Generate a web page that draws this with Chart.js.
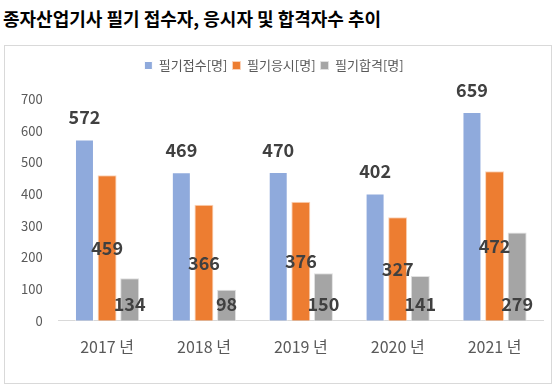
<!DOCTYPE html>
<html>
<head>
<meta charset="utf-8">
<script src="https://cdn.jsdelivr.net/npm/chart.js@4"></script>
<style>
  body { margin: 0; background: #fff; }
  #title {
    position: absolute; left: 3px; top: 5px;
    font-family: 'Noto Sans CJK KR', 'Noto Sans', sans-serif;
    font-weight: bold; font-size: 18px; color: #000;
    white-space: nowrap;
  }
  #box {
    position: absolute; left: 4px; top: 45px;
    width: 548px; height: 339px;
    border: 1px solid #d9d9d9; box-sizing: border-box;
  }
  #box canvas { position: absolute; left: 0; top: 0; }
</style>
</head>
<body>
<div id="title">종자산업기사 필기 접수자, 응시자 및 합격자수 추이</div>
<div id="box"><canvas id="salesChart" width="546" height="337"></canvas></div>
<script>
// chart data
const years = ['2017 년', '2018 년', '2019 년', '2020 년', '2021 년'];
const applied = [572, 469, 470, 402, 659];   // 필기접수
const tested = [459, 366, 376, 327, 472];    // 필기응시
const passed = [134, 98, 150, 141, 279];     // 필기합격

const KFONT = "'Noto Sans CJK KR', 'Noto Sans', sans-serif";

// Excel style value labels: blue above bar, orange mid bar, gray near base
const valueLabels = {
    id: 'valueLabels',
    afterDatasetsDraw(chart) {
        const ctx = chart.ctx;
        ctx.save();
        ctx.font = 'bold 18px ' + KFONT;
        ctx.fillStyle = '#404040';
        ctx.textAlign = 'center';
        ctx.textBaseline = 'middle';
        chart.data.datasets.forEach((ds, i) => {
            const meta = chart.getDatasetMeta(i);
            meta.data.forEach((bar, j) => {
                let y;
                if (i === 0) y = bar.y - 22;
                else if (i === 1) y = (bar.y + bar.base) / 2;
                else y = bar.base - 17;
                ctx.fillText(String(ds.data[j]), bar.x, y);
            });
        });
        ctx.restore();
    }
};

// extra space under the legend
const legendGap = {
    id: 'legendGap',
    beforeInit(chart) {
        const origFit = chart.legend.fit;
        chart.legend.fit = function () {
            origFit.bind(chart.legend)();
            this.height += 17;
        };
    }
};

const chartCtx = document.getElementById('salesChart').getContext('2d');
new Chart(chartCtx, {
    type: 'bar',
    data: {
        labels: years,
        datasets: [{
            label: '필기접수[명]',
            data: applied,
            backgroundColor: '#8faadc',
            borderColor: '#ffffff',
            borderWidth: 1
        }, {
            label: '필기응시[명]',
            data: tested,
            backgroundColor: '#ed7d31',
            borderColor: '#fbd3b8',
            borderWidth: 1
        }, {
            label: '필기합격[명]',
            data: passed,
            backgroundColor: '#a5a5a5',
            borderColor: '#e0e0e0',
            borderWidth: 1
        }]
    },
    options: {
        responsive: false,
        animation: false,
        layout: { padding: { left: 0, right: 8, top: 8, bottom: 9 } },
        datasets: {
            bar: { categoryPercentage: 0.70, barPercentage: 0.84 }
        },
        plugins: {
            legend: {
                position: 'top',
                labels: {
                    boxWidth: 8,
                    boxHeight: 8,
                    padding: 5,
                    color: '#595959',
                    font: { family: KFONT, size: 13 }
                }
            },
            tooltip: { enabled: false }
        },
        scales: {
            x: {
                grid: { display: false, drawTicks: false },
                border: { display: true, color: '#d9d9d9' },
                ticks: {
                    color: '#595959',
                    padding: 17,
                    font: { family: KFONT, size: 16 }
                }
            },
            y: {
                min: 0,
                max: 700,
                grid: { display: false, drawTicks: false },
                border: { display: false },
                ticks: {
                    stepSize: 100,
                    color: '#595959',
                    padding: 16,
                    font: { family: KFONT, size: 13 }
                }
            }
        }
    },
    plugins: [valueLabels, legendGap]
});
</script>
</body>
</html>
